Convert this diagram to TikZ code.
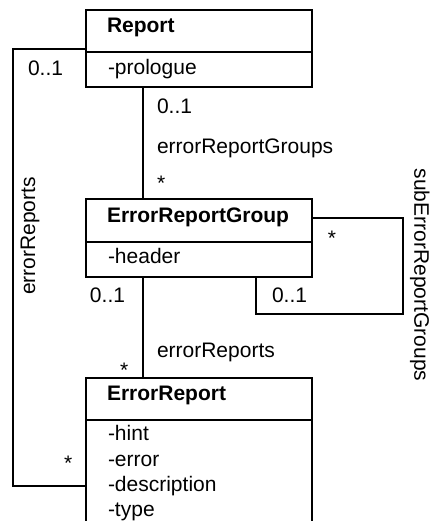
\documentclass[tikz,border=0pt]{standalone}
\usepackage{fontspec}
\setmainfont{Liberation Sans}
\usetikzlibrary{calc}
\tikzset{
  classbox/.style={draw, line width=0.6pt, inner sep=0pt, outer sep=0pt, minimum width=113pt, anchor=north west},
  lbl/.style={inner sep=0pt, outer sep=0pt, anchor=base west, font=\fontsize{10.5}{12.6}\selectfont},
  ttl/.style={lbl, font=\fontsize{10.5}{12.6}\selectfont\bfseries},
  rot/.style={inner sep=0pt, outer sep=0pt, anchor=base, font=\fontsize{10.5}{12.6}\selectfont},
  conn/.style={line width=0.6pt},
}
\begin{document}
\begin{tikzpicture}[x=0.5pt, y=-0.5pt]
\useasboundingbox (0,0) rectangle (431,521);
\clip (0,0) rectangle (431,521);
% class boxes
\node[classbox, minimum height=38.5pt] (report) at (86,10) {};
\node[classbox, minimum height=39pt] (erg) at (86,199) {};
\node[classbox, minimum height=78.5pt] (er) at (86,378) {};
% separators
\draw[conn] ($(report.north west)+(0,42)$) -- ($(report.north east)+(0,42)$);
\draw[conn] ($(erg.north west)+(0,43)$) -- ($(erg.north east)+(0,43)$);
\draw[conn] ($(er.north west)+(0,42)$) -- ($(er.north east)+(0,42)$);
% texts in boxes
\node[ttl] (t1) at (107,32) {Report};
\node[lbl] (a1) at (108,74) {-prologue};
\node[ttl] (t2) at (107,222) {ErrorReportGroup};
\node[lbl] (a2) at (108,263) {-header};
\node[ttl] (t3) at (107,400) {ErrorReport};
\node[lbl] (a3) at (108,440) {-hint};
\node[lbl] (a4) at (108,466) {-error};
\node[lbl] (a5) at (108,491) {-description};
\node[lbl] (a6) at (108,516) {-type};
% connectors
\draw[conn] ($(report.south west)+(57,0)$) -- ($(erg.north west)+(57,0)$);
\draw[conn] ($(erg.south west)+(57,0)$) -- ($(er.north west)+(57,0)$);
\coordinate (loopc) at (403,314);
\draw[conn] ($(erg.north east)+(0,19)$) -| (loopc) -| ($(erg.south west)+(170,0)$);
\coordinate (leftc) at (13,486);
\draw[conn] ($(report.north west)+(0,39)$) -| (leftc) -- ($(er.north west)+(0,108)$);
% multiplicities and role names
\node[lbl] (m1) at (28,75) {0..1};
\node[lbl] (m2) at (157,113) {0..1};
\node[lbl] (r1) at (157,153) {errorReportGroups};
\node[lbl] (m3) at (157,190) {*};
\node[lbl] (m4) at (328,245) {*};
\node[lbl] (m5) at (90,302) {0..1};
\node[lbl] (m6) at (272,302) {0..1};
\node[lbl] (r2) at (157,357) {errorReports};
\node[lbl] (m7) at (120,377) {*};
\node[lbl] (m8) at (64,470) {*};
\node[rot, rotate=90] (r3) at (35,236) {errorReports};
\node[rot, rotate=-90] (r4) at (414.5,275) {subErrorReportGroups};
\end{tikzpicture}
\end{document}
